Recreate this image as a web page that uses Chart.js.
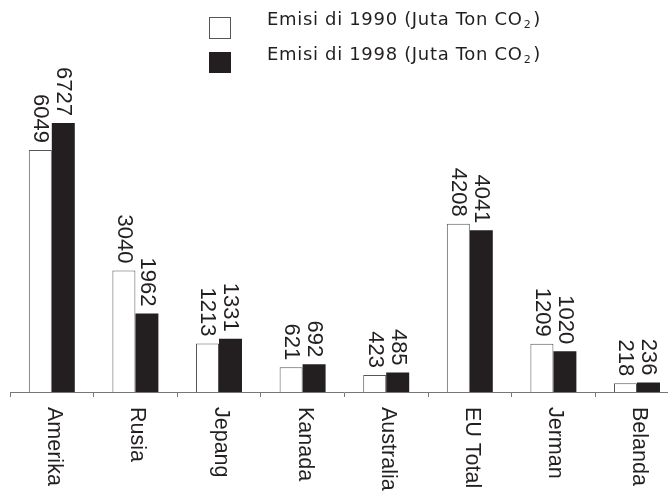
<!DOCTYPE html>
<html>
<head>
<meta charset="utf-8">
<script src="https://cdn.jsdelivr.net/npm/chart.js@4/dist/chart.umd.min.js"></script>
<style>
html,body{margin:0;padding:0;background:#fff;overflow:hidden;width:668px;height:493px;}
#wrap{position:relative;width:680px;height:493px;}
canvas{display:block;}
</style>
</head>
<body>
<div id="wrap"><canvas id="c" width="680" height="493"></canvas></div>
<script>
const categories = ['Amerika','Rusia','Jepang','Kanada','Australia','EU Total','Jerman','Belanda'];
const emisi1990 = [6049,3040,1213,621,423,4208,1209,218];
const emisi1998 = [6727,1962,1331,692,485,4041,1020,236];
const seriesNames = ['Emisi di 1990 (Juta Ton CO\u2082)','Emisi di 1998 (Juta Ton CO\u2082)'];

const INK = '#231f20';
const LABEL_FONT = '"Liberation Sans", Arial, sans-serif';
const LEGEND_FONT = '"DejaVu Sans", sans-serif';

const valueLabels = {
  id: 'valueLabels',
  afterDatasetsDraw(chart) {
    const ctx = chart.ctx;
    ctx.save();
    ctx.fillStyle = INK;
    ctx.font = '22px ' + LABEL_FONT;
    chart.data.datasets.forEach((ds, di) => {
      const meta = chart.getDatasetMeta(di);
      meta.data.forEach((bar, i) => {
        ctx.save();
        ctx.translate(bar.x, bar.y - 7);
        ctx.rotate(Math.PI / 2);
        ctx.textAlign = 'right';
        ctx.textBaseline = 'middle';
        ctx.fillText(String(ds.data[i]), 0, 0);
        ctx.restore();
      });
    });
    ctx.restore();
  }
};

const categoryLabels = {
  id: 'categoryLabels',
  afterDraw(chart) {
    const ctx = chart.ctx;
    const xs = chart.scales.x;
    ctx.save();
    ctx.fillStyle = INK;
    ctx.font = '21.5px ' + LABEL_FONT;
    chart.data.labels.forEach((lab, i) => {
      const x = xs.getPixelForValue(i);
      ctx.save();
      ctx.translate(x + 2, xs.top + 15);
      ctx.rotate(Math.PI / 2);
      ctx.textAlign = 'left';
      ctx.textBaseline = 'middle';
      ctx.fillText(lab, 0, 0);
      ctx.restore();
    });
    ctx.restore();
  }
};

const customLegend = {
  id: 'customLegend',
  afterDraw(chart) {
    const ctx = chart.ctx;
    const rows = [{box: [209.5, 17.5, 21, 21], base: 25}, {box: [209, 52, 22, 21], base: 60}];
    const MAIN = '18px ' + LEGEND_FONT;
    const SUB = '11px ' + LEGEND_FONT;
    const TARGET = 274;
    ctx.save();
    chart.data.datasets.forEach((ds, i) => {
      const r = rows[i];
      ctx.fillStyle = ds.backgroundColor;
      ctx.fillRect(...r.box);
      if (ds.borderWidth) {
        ctx.strokeStyle = ds.borderColor;
        ctx.lineWidth = 1;
        ctx.strokeRect(...r.box);
      }
      const parts = ds.label.split('\u2082');
      ctx.fillStyle = INK;
      ctx.textAlign = 'left';
      ctx.textBaseline = 'alphabetic';
      ctx.font = MAIN;
      const w0 = ctx.measureText(parts[0]).width;
      const w2 = ctx.measureText(parts[1] || '').width;
      ctx.font = SUB;
      const w1 = ctx.measureText('2').width;
      const nChars = parts[0].length + 1 + (parts[1] || '').length;
      const ls = Math.max(0, (TARGET - (w0 + w1 + w2 + 3)) / nChars);
      const hasLS = 'letterSpacing' in ctx;
      let x = 267;
      ctx.font = MAIN;
      if (hasLS) ctx.letterSpacing = ls + 'px';
      ctx.fillText(parts[0], x, r.base);
      x += ctx.measureText(parts[0]).width + 1;
      ctx.font = SUB;
      ctx.fillText('2', x, r.base + 3);
      x += ctx.measureText('2').width + 2;
      ctx.font = MAIN;
      ctx.fillText(parts[1] || '', x, r.base);
      if (hasLS) ctx.letterSpacing = '0px';
    });
    ctx.restore();
  }
};

function draw() {
  new Chart(document.getElementById('c'), {
    type: 'bar',
    data: {
      labels: categories,
      datasets: [
        {label: seriesNames[0], data: emisi1990, backgroundColor: '#ffffff', borderColor: '#555555', borderWidth: 1, borderSkipped: 'start'},
        {label: seriesNames[1], data: emisi1998, backgroundColor: INK, borderWidth: 0}
      ]
    },
    options: {
      responsive: false,
      animation: false,
      devicePixelRatio: 1,
      layout: {padding: {left: 10, right: 1.2, top: 0, bottom: 0}},
      datasets: {bar: {categoryPercentage: 0.55, barPercentage: 1.0}},
      plugins: {legend: {display: false}, tooltip: {enabled: false}},
      scales: {
        x: {
          type: 'category',
          grid: {offset: true, drawOnChartArea: false, drawTicks: true, tickLength: 5, color: '#777777', lineWidth: 1},
          border: {display: true, color: '#777777', width: 1},
          ticks: {display: false},
          afterFit(scale) { scale.height = 101; }
        },
        y: {
          display: false,
          min: 0,
          max: 9800
        }
      }
    },
    plugins: [valueLabels, categoryLabels, customLegend]
  });
}

const fontLoads = (document.fonts && document.fonts.load)
  ? Promise.all([
      document.fonts.load('22px "Liberation Sans"'),
      document.fonts.load('18px "DejaVu Sans"')
    ]).catch(() => null)
  : Promise.resolve();
fontLoads.then(draw, draw);
</script>
</body>
</html>
